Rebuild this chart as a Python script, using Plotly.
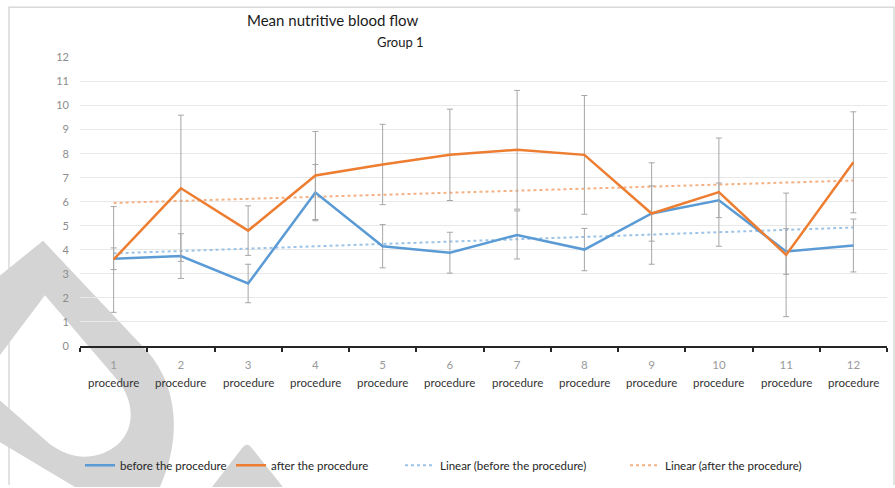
import numpy as np
import plotly.graph_objects as go

# ---- data ----
procedures = [str(i) for i in range(1, 13)]
before_mean = [3.63, 3.74, 2.60, 6.38, 4.15, 3.88, 4.62, 4.01, 5.51, 6.06, 3.93, 4.18]
before_err = [0.45, 0.93, 0.80, 1.17, 0.90, 0.85, 1.00, 0.88, 1.15, 0.72, 0.95, 1.10]
after_mean = [3.60, 6.56, 4.80, 7.09, 7.55, 7.95, 8.16, 7.95, 5.51, 6.40, 3.79, 7.64]
after_err = [2.20, 3.04, 1.03, 1.83, 1.67, 1.90, 2.47, 2.47, 2.11, 2.25, 2.57, 2.10]
y_ticks = list(range(0, 13))

BLUE = "#5b9bd5"
ORANGE = "#ed7d31"
BLUE_TREND = "#9dc3e6"
ORANGE_TREND = "#f4b183"
ERR = "#a6a6a6"
EMBLEM = "rgb(212,212,212)"
FONT = "Lato"

W, H = 895, 488
ML, MR, MT, MB = 80, 8, 57, 140
PW, PH = W - ML - MR, H - MT - MB


def px(xp):
    return (xp - ML) / PW


def py(yp):
    return (H - MB - yp) / PH


def path(cmds):
    out = []
    for c in cmds:
        if isinstance(c, str):
            out.append(c)
        else:
            out.append(f"{px(c[0]):.4f},{py(c[1]):.4f}")
    return " ".join(out)


# linear trend lines fitted to each series
idx = np.arange(1, 13)
b_fit = np.polyval(np.polyfit(idx, before_mean, 1), idx)
a_fit = np.polyval(np.polyfit(idx, after_mean, 1), idx)

fig = go.Figure()
fig.add_trace(go.Scatter(
    x=procedures, y=b_fit, mode="lines", name="Linear (before the procedure)",
    line=dict(color=BLUE_TREND, width=2, dash="dot"), legend="legend3"))
fig.add_trace(go.Scatter(
    x=procedures, y=a_fit, mode="lines", name="Linear (after the procedure)",
    line=dict(color=ORANGE_TREND, width=2, dash="dot"), legend="legend4"))
fig.add_trace(go.Scatter(
    x=procedures, y=before_mean, mode="lines", name="before the procedure",
    line=dict(color=BLUE, width=2.5),
    error_y=dict(type="data", array=before_err, color=ERR, thickness=1, width=3),
    legend="legend"))
fig.add_trace(go.Scatter(
    x=procedures, y=after_mean, mode="lines", name="after the procedure",
    line=dict(color=ORANGE, width=2.5),
    error_y=dict(type="data", array=after_err, color=ERR, thickness=1, width=3),
    legend="legend2"))

# category labels: number on the first line, word underneath
fig.update_xaxes(
    type="category", range=[-0.5, 11.5],
    tickvals=procedures, ticktext=procedures,
    tickfont=dict(family=FONT, size=11.5, color="#9a9a9a"),
    ticklabelstandoff=7,
    showline=True, linecolor="#262626", linewidth=2,
    ticks="outside", tickson="boundaries", ticklen=4, tickwidth=2, tickcolor="#262626",
    showgrid=False, zeroline=False, fixedrange=True,
)
for i, p in enumerate(procedures):
    fig.add_annotation(x=i, xref="x", y=py(385), yref="paper", text="procedure",
                       showarrow=False, font=dict(family=FONT, size=11.5, color="#333333"),
                       xanchor="center", yanchor="middle")

fig.update_yaxes(
    range=[0, 12.02], tickvals=y_ticks, ticktext=[str(v) for v in y_ticks],
    tickfont=dict(family=FONT, size=11, color="#8c8c8c"),
    showgrid=True, gridcolor="#e8e8e8", gridwidth=1,
    zeroline=False, showline=False, ticks="", ticklabelstandoff=10, fixedrange=True,
)

# titles
fig.add_annotation(x=px(332), y=py(20), xref="paper", yref="paper",
                   text="Mean nutritive blood flow", showarrow=False,
                   font=dict(family=FONT, size=15, color="#1a1a1a"),
                   xanchor="center", yanchor="middle")
fig.add_annotation(x=px(400), y=py(42), xref="paper", yref="paper",
                   text="Group 1", showarrow=False,
                   font=dict(family=FONT, size=13, color="#1a1a1a"),
                   xanchor="center", yanchor="middle")

legend_font = dict(family=FONT, size=11.5, color="#262626")
leg_y = py(468)
common = dict(orientation="h", yanchor="middle", y=leg_y, xanchor="left",
              bgcolor="rgba(0,0,0,0)", font=legend_font, borderwidth=0)

# grey emblem in the lower-left corner: a thick teardrop ring plus a triangle
ring = path([
    "M", (0, 277), "L", (43, 242), "L", (147, 353),
    "C", (178, 388), (182, 440), (160, 490),
    "L", (75, 490), "L", (0, 445), "Z",
    "M", (0, 403), "L", (50, 447),
    "C", (68, 460), (85, 462), (100, 457),
    "C", (136, 445), (138, 408), (118, 383),
    "L", (45, 297), "L", (0, 357), "Z",
])
triangle = path(["M", (212, 490), "L", (242, 451), "Q", (247, 444), (252, 451),
                 "L", (283, 490), "Z"])

shapes = [
    # chart frame
    dict(type="path", xref="paper", yref="paper", layer="below",
         path=path(["M", (9, 488), "L", (9, 7), "L", (894, 7), "L", (894, 488)]),
         line=dict(color="#d9d9d9", width=1.5)),
    dict(type="path", xref="paper", yref="paper", layer="below",
         path=ring, fillcolor=EMBLEM, line=dict(width=0)),
    dict(type="path", xref="paper", yref="paper", layer="below",
         path=triangle, fillcolor=EMBLEM, line=dict(width=0)),
]

fig.update_layout(
    width=W, height=H,
    margin=dict(l=ML, r=MR, t=MT, b=MB),
    paper_bgcolor="white", plot_bgcolor="rgba(0,0,0,0)",
    font=dict(family=FONT),
    showlegend=True,
    legend=dict(x=px(80), **common),
    legend2=dict(x=px(231), **common),
    legend3=dict(x=px(400), **common),
    legend4=dict(x=px(625), **common),
    shapes=shapes,
)

fig.write_html("out.html", config={"displayModeBar": False})
